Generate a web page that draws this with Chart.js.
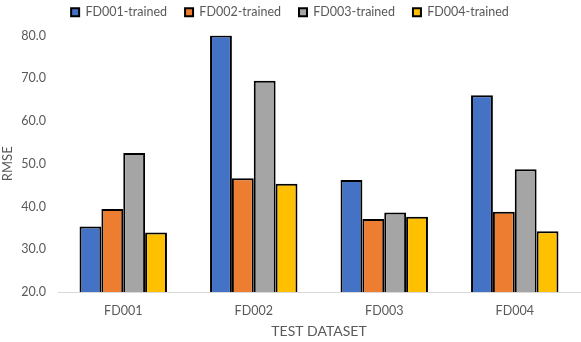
<!DOCTYPE html>
<html>
<head>
<meta charset="utf-8">
<script src="https://cdn.jsdelivr.net/npm/chart.js@4.4.0/dist/chart.umd.min.js"></script>
<style>
  html, body { margin: 0; padding: 0; background: #fff; }
  #wrap { width: 581px; height: 342px; }
</style>
</head>
<body>
<div id="wrap"><canvas id="barChart" width="581" height="342"></canvas></div>
<script>
const categories = ['FD001', 'FD002', 'FD003', 'FD004'];
const seriesNames = ['FD001-trained', 'FD002-trained', 'FD003-trained', 'FD004-trained'];
const fd001Trained = [35.3, 80.0, 46.2, 66.0];
const fd002Trained = [39.4, 46.6, 37.1, 38.8];
const fd003Trained = [52.5, 69.4, 38.6, 48.7];
const fd004Trained = [33.9, 45.3, 37.6, 34.2];
const yTicks = [20, 30, 40, 50, 60, 70, 80];

const colors = ['#4472c4', '#ed7d31', '#a5a5a5', '#ffc000'];
const values = [fd001Trained, fd002Trained, fd003Trained, fd004Trained];

Chart.defaults.font.family = "Lato, 'Open Sans', sans-serif";
Chart.defaults.color = '#595959';

// pull the legend up towards the top edge like the original
const legendUp = {
  id: 'legendUp',
  afterLayout(chart) {
    chart.legend.top -= 7;
    chart.legend.bottom -= 7;
  }
};

const ctx = document.getElementById('barChart').getContext('2d');
const chart = new Chart(ctx, {
  type: 'bar',
  data: {
    labels: categories,
    datasets: seriesNames.map((name, i) => ({
      label: name,
      data: values[i],
      backgroundColor: colors[i],
      borderColor: '#000',
      borderWidth: 2,
      barPercentage: 1,
      categoryPercentage: 0.67
    }))
  },
  options: {
    responsive: false,
    animation: false,
    layout: { padding: { left: 0, right: 1, top: -5, bottom: 2 } },
    plugins: {
      legend: {
        position: 'top',
        labels: {
          boxWidth: 8,
          boxHeight: 8,
          padding: 18,
          font: { size: 12.5 },
          color: '#595959'
        }
      },
      tooltip: { enabled: false }
    },
    scales: {
      x: {
        grid: { display: false, drawTicks: false },
        border: { display: true, color: '#d9d9d9', width: 1 },
        ticks: { font: { size: 12.5 }, padding: 11 },
        title: { display: true, text: 'TEST DATASET', font: { size: 14 }, padding: { top: 0, bottom: 0 } },
        afterFit: axis => { axis.height = 48; }
      },
      y: {
        min: 20,
        max: 80,
        afterBuildTicks: axis => { axis.ticks = yTicks.map(v => ({ value: v })); },
        grid: { display: false, drawTicks: false },
        border: { display: false },
        ticks: {
          font: { size: 12.5 },
          padding: 12,
          callback: v => v.toFixed(1)
        },
        title: { display: true, text: 'RMSE', font: { size: 13 }, padding: { top: 0, bottom: 0 } },
        afterFit: axis => { axis.width = 58; }
      }
    }
  },
  plugins: [legendUp]
});
</script>
</body>
</html>
